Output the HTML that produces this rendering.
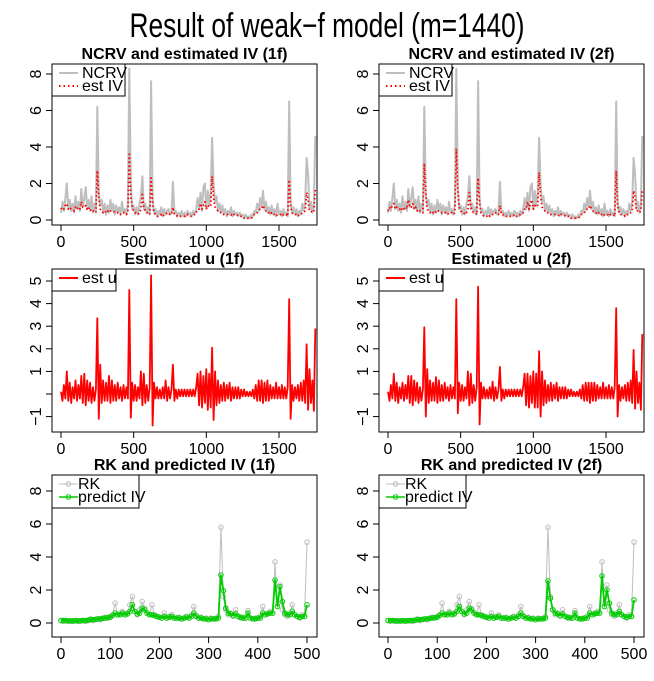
<!DOCTYPE html>
<html><head><meta charset="utf-8"><style>
html,body{margin:0;padding:0;background:#fff;}
svg{display:block;font-family:"Liberation Sans",Arial,sans-serif;}
</style></head><body>
<svg id="fig" width="654" height="681" viewBox="0 0 654 681" xmlns="http://www.w3.org/2000/svg">
<text x="327" y="37" font-size="34" text-anchor="middle" textLength="395" lengthAdjust="spacingAndGlyphs">Result of weak−f model (m=1440)</text>
</svg>
<script>
// ---- data (step 10 for top/middle, step 5 for bottom) ----
const ncrv = [0.4,1.0,0.5,1.2,2.0,0.6,1.1,0.5,0.9,0.4,1.3,0.6,1.0,0.5,1.7,0.7,1.2,1.8,0.6,1.1,0.5,1.3,0.4,0.9,0.5,
6.2,1.5,0.8,1.1,0.4,0.9,0.3,0.8,0.4,1.1,
0.5,0.9,0.3,0.8,0.4,0.7,0.3,1.0,0.4,0.6,0.3,0.9,
8.3,2.0,0.6,0.8,0.3,0.7,0.3,0.9,
1.3,2.4,0.6,0.9,0.4,0.7,0.3,
7.6,1.2,0.4,0.6,0.2,0.5,0.3,0.7,0.2,0.6,0.3,0.5,0.6,0.3,0.4,
2.1,0.4,0.5,0.2,0.4,0.2,0.5,0.2,0.4,0.2,0.5,0.3,0.4,0.2,0.5,0.3,0.6,
1.2,0.6,1.5,0.5,1.8,2.0,0.6,1.6,0.8,1.5,4.5,1.9,1.0,1.3,0.5,0.9,
0.4,0.8,0.3,0.6,0.2,0.5,0.3,0.7,0.2,0.5,0.3,0.4,0.2,0.4,0.2,0.3,0.1,0.3,0.1,0.2,
0.1,0.3,0.2,0.5,0.4,0.9,0.5,1.2,0.7,1.6,0.6,1.0,0.4,0.7,0.3,0.8,0.3,0.6,0.2,0.9,0.3,0.5,0.2,0.6,0.3,0.4,0.2,
6.5,1.0,0.4,0.7,0.3,0.6,0.2,0.5,0.3,0.9,0.5,1.0,3.4,2.5,0.6,1.0,0.4,0.9,4.6];
const estIV1 = [0.6,0.7,0.6,0.8,0.9,0.6,0.7,0.6,0.6,0.5,0.7,0.6,0.7,0.6,1.0,0.7,0.7,0.8,0.6,0.7,0.5,0.6,0.5,0.5,0.4,
2.7,1.2,0.6,0.5,0.4,0.5,0.4,0.5,0.4,0.5,
0.5,0.5,0.4,0.4,0.4,0.4,0.3,0.4,0.4,0.4,0.3,0.4,
3.6,1.3,0.7,0.5,0.4,0.4,0.3,0.4,
0.6,1.4,0.7,0.5,0.4,0.4,0.3,
2.3,0.9,0.4,0.3,0.2,0.2,0.2,0.3,0.2,0.3,0.3,0.4,0.4,0.3,0.3,
0.7,0.3,0.3,0.2,0.2,0.2,0.2,0.2,0.2,0.2,0.3,0.2,0.2,0.2,0.3,0.3,0.4,
0.6,0.6,0.9,0.6,0.8,1.0,0.6,0.8,0.7,0.8,2.4,1.2,0.7,0.6,0.5,0.5,
0.4,0.4,0.3,0.3,0.3,0.3,0.3,0.3,0.2,0.3,0.3,0.3,0.2,0.2,0.2,0.2,0.1,0.1,0.1,0.1,
0.1,0.1,0.2,0.3,0.3,0.4,0.5,0.6,0.6,0.8,0.6,0.5,0.4,0.4,0.3,0.4,0.3,0.3,0.2,0.3,0.3,0.3,0.2,0.3,0.3,0.3,0.2,
2.2,0.7,0.4,0.3,0.3,0.3,0.2,0.3,0.3,0.4,0.4,0.5,1.5,1.1,0.5,0.5,0.4,0.5,1.7];
const estIV2 = [0.5,0.7,0.6,0.8,0.9,0.6,0.7,0.6,0.6,0.5,0.7,0.6,0.7,0.6,1.1,0.7,0.7,0.9,0.6,0.7,0.5,0.6,0.5,0.5,0.4,
3.1,1.4,0.6,0.5,0.4,0.5,0.4,0.5,0.4,0.5,
0.5,0.5,0.4,0.4,0.4,0.4,0.3,0.4,0.4,0.4,0.3,0.4,
3.9,1.5,0.7,0.5,0.4,0.4,0.3,0.4,
0.6,1.5,0.7,0.5,0.4,0.4,0.3,
2.3,0.9,0.4,0.3,0.2,0.2,0.2,0.3,0.2,0.3,0.3,0.4,0.4,0.3,0.3,
0.8,0.3,0.3,0.2,0.2,0.2,0.2,0.2,0.2,0.2,0.3,0.2,0.2,0.2,0.3,0.3,0.4,
0.6,0.6,1.0,0.6,0.9,1.1,0.6,0.8,0.7,0.8,2.6,1.3,0.7,0.6,0.5,0.5,
0.4,0.4,0.3,0.3,0.3,0.3,0.3,0.3,0.2,0.3,0.3,0.3,0.2,0.2,0.2,0.2,0.1,0.1,0.1,0.1,
0.1,0.1,0.2,0.3,0.3,0.4,0.5,0.6,0.6,0.8,0.6,0.5,0.4,0.4,0.3,0.4,0.3,0.3,0.2,0.3,0.3,0.3,0.2,0.3,0.3,0.3,0.2,
2.7,0.8,0.4,0.3,0.3,0.3,0.2,0.3,0.3,0.4,0.4,0.5,1.6,1.2,0.5,0.5,0.4,0.5,1.7];
const estU1 = [0.1,-0.3,0.4,-0.2,1.0,-0.3,0.5,-0.4,0.3,-0.2,0.6,-0.3,0.4,-0.2,0.8,-0.4,0.9,-0.5,0.6,-0.3,0.5,-0.4,0.3,-0.3,0.2,
3.35,-1.1,1.3,-0.4,0.6,-0.3,0.5,-0.3,0.8,-0.4,
0.6,-0.3,0.4,-0.3,0.5,-0.2,0.3,-0.3,0.4,-0.2,0.3,-0.2,
4.6,-1.05,0.5,-0.3,0.4,-0.3,0.3,-0.2,
1.0,-0.5,0.9,-0.4,0.4,-0.3,0.3,
5.25,-1.4,0.5,-0.2,0.3,-0.2,0.2,-0.2,0.3,-0.2,0.6,-0.3,0.3,-0.2,0.2,
1.3,-0.3,0.2,-0.2,0.2,-0.1,0.2,-0.1,0.2,-0.1,0.2,-0.1,0.2,-0.1,0.2,-0.1,0.3,
0.9,-0.5,1.0,-0.6,0.8,-0.4,1.1,-0.7,0.9,-0.6,2.05,-1.15,1.0,-0.5,0.6,-0.4,
0.4,-0.3,0.5,-0.3,0.4,-0.2,0.5,-0.3,0.3,-0.2,0.3,-0.2,0.3,-0.2,0.2,-0.1,0.2,-0.1,0.1,-0.1,
0.1,-0.1,0.2,-0.2,0.4,-0.3,0.6,-0.3,0.6,-0.4,0.5,-0.3,0.6,-0.3,0.4,-0.2,0.3,-0.2,0.5,-0.2,0.3,-0.2,0.4,-0.2,0.3,-0.2,0.3,
4.2,-1.1,0.4,-0.3,0.3,-0.2,0.4,-0.3,0.5,-0.3,0.6,-0.4,2.2,-0.7,1.1,-0.4,0.6,-0.75,2.9];
const estU2 = [0.1,-0.3,0.4,-0.2,0.9,-0.3,0.5,-0.4,0.3,-0.2,0.5,-0.3,0.4,-0.2,0.8,-0.4,0.8,-0.5,0.6,-0.3,0.5,-0.4,0.3,-0.3,0.2,
2.95,-1.0,1.1,-0.4,0.6,-0.3,0.5,-0.3,0.75,-0.4,
0.6,-0.3,0.4,-0.3,0.5,-0.2,0.3,-0.3,0.4,-0.2,0.3,-0.2,
4.2,-0.85,0.5,-0.3,0.4,-0.3,0.3,-0.2,
1.0,-0.5,0.9,-0.4,0.4,-0.3,0.3,
4.75,-1.35,0.5,-0.2,0.3,-0.2,0.2,-0.2,0.3,-0.2,0.55,-0.3,0.3,-0.2,0.2,
1.2,-0.3,0.2,-0.2,0.2,-0.1,0.2,-0.1,0.2,-0.1,0.2,-0.1,0.2,-0.1,0.2,-0.1,0.3,
0.9,-0.5,0.9,-0.6,0.8,-0.4,1.0,-0.6,0.9,-0.6,1.9,-1.0,1.0,-0.5,0.6,-0.4,
0.4,-0.3,0.5,-0.3,0.4,-0.2,0.5,-0.3,0.3,-0.2,0.3,-0.2,0.3,-0.2,0.2,-0.1,0.2,-0.1,0.1,-0.1,
0.1,-0.1,0.2,-0.2,0.4,-0.3,0.5,-0.3,0.5,-0.4,0.5,-0.3,0.5,-0.3,0.4,-0.2,0.3,-0.2,0.5,-0.2,0.3,-0.2,0.4,-0.2,0.3,-0.2,0.3,
3.8,-1.0,0.4,-0.3,0.3,-0.2,0.4,-0.3,0.5,-0.3,0.6,-0.4,1.95,-0.65,1.0,-0.4,0.5,-0.7,2.65];
const rk = [0.15,0.1,0.15,0.1,0.12,0.1,0.15,0.1,0.12,0.15,0.1,0.15,0.25,0.15,0.2,0.25,0.2,0.3,0.35,0.3,
0.4,0.5,1.2,0.5,0.6,0.7,0.5,0.6,1.1,1.6,0.7,0.5,0.8,1.3,0.9,0.6,0.5,1.1,0.5,0.4,
0.35,0.3,0.6,0.3,0.4,0.5,0.3,0.3,0.35,0.25,0.3,0.4,0.3,0.5,1.0,0.45,0.3,0.35,0.25,0.3,0.2,0.3,0.25,0.3,0.4,
5.8,1.6,0.8,0.5,0.6,0.4,0.8,0.4,0.3,0.35,0.3,0.75,0.3,0.25,0.3,0.3,0.4,1.0,0.5,0.6,0.7,0.6,
3.7,1.2,2.3,0.8,0.5,0.4,0.6,1.1,0.5,0.4,0.3,0.5,0.4,4.9];
const predIV1 = [0.15,0.15,0.15,0.13,0.13,0.13,0.14,0.13,0.14,0.15,0.15,0.17,0.2,0.2,0.22,0.25,0.25,0.28,0.3,0.32,
0.35,0.45,0.6,0.5,0.5,0.6,0.5,0.55,0.7,1.1,0.7,0.55,0.6,0.9,0.8,0.6,0.5,0.5,0.45,0.4,
0.35,0.3,0.4,0.3,0.35,0.4,0.3,0.3,0.3,0.25,0.3,0.35,0.3,0.4,0.6,0.4,0.3,0.3,0.25,0.25,0.2,0.25,0.25,0.25,0.3,
2.9,1.95,0.9,0.6,0.55,0.45,0.55,0.4,0.35,0.3,0.3,0.6,0.3,0.25,0.25,0.3,0.3,0.6,0.5,0.55,0.6,0.6,
2.6,1.0,2.2,1.3,0.6,0.5,0.5,0.7,0.5,0.4,0.35,0.4,0.4,1.1];
const predIV2 = [0.15,0.15,0.15,0.13,0.13,0.13,0.14,0.13,0.14,0.15,0.15,0.17,0.2,0.2,0.22,0.25,0.25,0.28,0.3,0.32,
0.35,0.45,0.6,0.5,0.5,0.6,0.5,0.55,0.7,1.0,0.7,0.55,0.6,0.9,0.8,0.6,0.5,0.5,0.45,0.4,
0.35,0.3,0.4,0.3,0.35,0.4,0.3,0.3,0.3,0.25,0.3,0.35,0.3,0.4,0.6,0.4,0.3,0.3,0.25,0.25,0.2,0.25,0.25,0.25,0.3,
2.55,1.5,0.8,0.6,0.55,0.45,0.55,0.4,0.35,0.3,0.3,0.6,0.3,0.25,0.25,0.3,0.3,0.6,0.5,0.55,0.6,0.6,
2.85,1.0,2.0,1.2,0.6,0.5,0.5,0.7,0.5,0.4,0.35,0.4,0.4,1.4];
const ticksX1 = [0,500,1000,1500];
const ticksX3 = [0,100,200,300,400,500];
const ticksY1 = [0,2,4,6,8];
const ticksY2 = [-1,0,1,2,3,4,5];
const labelsY2 = ["−1","","1","2","3","4","5"];
const titles = ["NCRV and estimated IV (1f)","NCRV and estimated IV (2f)","Estimated u (1f)","Estimated u (2f)","RK and predicted IV (1f)","RK and predicted IV (2f)"];

const NS="http://www.w3.org/2000/svg";
const svg=document.getElementById('fig');
function mk(tag,attrs,parent){const e=document.createElementNS(NS,tag);for(const k in attrs)e.setAttribute(k,attrs[k]);(parent||svg).appendChild(e);return e;}

function panel(col,row,opt){
  const dx=col*327;
  const bx0=52+dx,bx1=317+dx;
  const g=mk('g',{});
  
  
  const sx=v=>61+dx+(v-opt.x0)*(opt.px1-61)/(opt.x1-opt.x0);
  const sy=v=>opt.py0+(v-opt.y0)*(opt.py1-opt.py0)/(opt.y1-opt.y0);
  const clip='clip'+col+row;
  const cp=mk('clipPath',{id:clip},g);
  mk('rect',{x:bx0,y:opt.by0,width:bx1-bx0,height:opt.by1-opt.by0},cp);
  const t=mk('text',{x:(bx0+bx1)/2,y:opt.by0-5,'font-size':16,'font-weight':'bold','text-anchor':'middle'},g);
  t.textContent=opt.title;
  
  
  const sg=mk('g',{'clip-path':'url(#'+clip+')'},g);
  opt.series.forEach(s=>{
    const pts=s.data.map((v,i)=>sx(i*s.step).toFixed(1)+','+sy(v).toFixed(1)).join(' ');
    const pl=mk('polyline',{points:pts,fill:'none',stroke:s.color,'stroke-width':s.w,'stroke-dasharray':s.dash||'none','stroke-linejoin':'round'},sg);
    
    
    if(s.marker){
      s.data.forEach((v,i)=>{
        const c=mk('circle',{cx:sx(i*s.step),cy:sy(v),r:2.3,fill:'none',stroke:s.color,'stroke-width':1},sg);
        
        
      });
    }
  });
  const b=mk('rect',{x:bx0,y:opt.by0,width:bx1-bx0,height:opt.by1-opt.by0,fill:'none',stroke:'#000','stroke-width':1},g);
  
  
  const xa=mk('g',{},g);
  
  
  mk('line',{x1:sx(opt.xt[0]),x2:sx(opt.xt[opt.xt.length-1]),y1:opt.by1,y2:opt.by1,stroke:'#000'},xa);
  opt.xt.forEach(v=>{
    mk('line',{x1:sx(v),x2:sx(v),y1:opt.by1,y2:opt.by1+6,stroke:'#000'},xa);
    const tl=mk('text',{x:sx(v),y:opt.by1+22,'font-size':16,'text-anchor':'middle'},xa);
    tl.textContent=v;
    
    
  });
  const ya=mk('g',{},g);
  
  
  mk('line',{x1:bx0,x2:bx0,y1:sy(opt.yt[0]),y2:sy(opt.yt[opt.yt.length-1]),stroke:'#000'},ya);
  opt.yt.forEach((v,i)=>{
    mk('line',{x1:bx0-6,x2:bx0,y1:sy(v),y2:sy(v),stroke:'#000'},ya);
    const lab=opt.yl?opt.yl[i]:String(v);
    const tl=mk('text',{x:0,y:0,'font-size':16,'text-anchor':'middle',transform:'translate('+(bx0-11)+','+sy(v)+') rotate(-90)'},ya);
    tl.textContent=lab;
    
    
  });
  const lg=mk('g',{},g);
  
  
  const L=opt.legend;
  mk('rect',{x:bx0,y:opt.by0,width:L.w,height:L.h,fill:'#fff',stroke:'#000'},lg);
  L.items.forEach((it,i)=>{
    const yy=opt.by0+9+i*13;
    const ent=mk('g',{},lg);
    
    
    mk('line',{x1:bx0+7,x2:bx0+26,y1:yy,y2:yy,stroke:it.color,'stroke-width':it.w,'stroke-dasharray':it.dash||'none'},ent);
    if(it.marker) mk('circle',{cx:bx0+16.5,cy:yy,r:2.3,fill:'none',stroke:it.color},ent);
    const tx=mk('text',{x:bx0+L.tx,y:yy+5,'font-size':16},ent);
    tx.textContent=it.label;
  });
}

const legTop=c=>({w:73,h:32,tx:30,items:[{label:'NCRV',color:'#bebebe',w:2},{label:'est IV',color:'#ff0000',w:2,dash:'1.5,3'}]});
const legMid={w:64,h:22,tx:30,items:[{label:'est u',color:'#ff0000',w:2}]};
const legBot={w:87,h:33,tx:26,items:[{label:'RK',color:'#bebebe',w:1,marker:true},{label:'predict IV',color:'#00cd00',w:1.5,marker:true}]};

[0,1].forEach(c=>{
  panel(c,0,{name:'ncrv-panel-'+(c+1)+'f',title:titles[c],by0:64,by1:225,x0:0,x1:1500,px1:279,y0:0,y1:8,py0:220,py1:74,
    xt:ticksX1,yt:ticksY1,legend:legTop(c),
    series:[{name:'ncrv',data:ncrv,step:10,color:'#bebebe',w:2},
            {name:'est-iv',data:c?estIV2:estIV1,step:10,color:'#ff0000',w:1.8,dash:'1.5,2.5'}]});
  panel(c,1,{name:'est-u-panel-'+(c+1)+'f',title:titles[2+c],by0:269,by1:432,x0:0,x1:1500,px1:279,y0:0,y1:5,py0:394,py1:281,
    xt:ticksX1,yt:ticksY2,yl:labelsY2,legend:legMid,
    series:[{name:'est-u',data:c?estU2:estU1,step:10,color:'#ff0000',w:1.8}]});
  panel(c,2,{name:'rk-panel-'+(c+1)+'f',title:titles[4+c],by0:475,by1:637,x0:0,x1:500,px1:307,y0:0,y1:8,py0:623,py1:491,
    xt:ticksX3,yt:ticksY1,legend:legBot,
    series:[{name:'rk',data:rk,step:5,color:'#bebebe',w:1,marker:true},
            {name:'predict-iv',data:c?predIV2:predIV1,step:5,color:'#00cd00',w:1.8,marker:true}]});
});
</script>
</body></html>
